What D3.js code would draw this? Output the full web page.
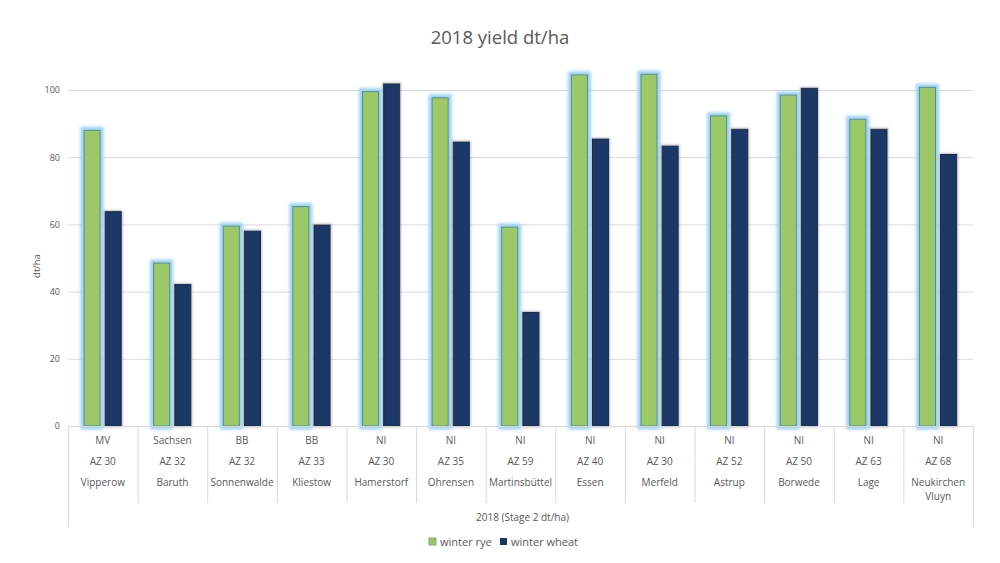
<!DOCTYPE html>
<html>
<head>
<meta charset="utf-8">
<script src="https://cdn.jsdelivr.net/npm/d3@7"></script>
<style>
  html, body { margin: 0; padding: 0; background: #fff; }
  svg { display: block; font-family: "Open Sans", "Liberation Sans", sans-serif; }
</style>
</head>
<body>
<svg id="chart" width="1000" height="563"></svg>
<script>
const states = ["MV","Sachsen","BB","BB","NI","NI","NI","NI","NI","NI","NI","NI","NI"];
const azValues = ["AZ 30","AZ 32","AZ 32","AZ 33","AZ 30","AZ 35","AZ 59","AZ 40","AZ 30","AZ 52","AZ 50","AZ 63","AZ 68"];
const sites = ["Vipperow","Baruth","Sonnenwalde","Kliestow","Hamerstorf","Ohrensen","Martinsbüttel","Essen","Merfeld","Astrup","Borwede","Lage","Neukirchen Vluyn"];
const seriesNames = ["winter rye","winter wheat"];
const winterRye = [88, 48.5, 59.5, 65.3, 99.5, 97.7, 59.2, 104.5, 104.7, 92.3, 98.5, 91.3, 100.8];
const winterWheat = [63.8, 42.1, 58, 59.8, 101.8, 84.5, 33.8, 85.4, 83.3, 88.3, 100.5, 88.3, 80.8];
const yTicks = [0, 20, 40, 60, 80, 100];
const chartTitle = "2018 yield dt/ha";
const yTitle = "dt/ha";
const groupLabel = "2018 (Stage 2 dt/ha)";

(function () {
const svg = d3.select("#chart");
const mLeft = 68, mRight = 973, mTop = 90, mBottom = 426;
const colors = { "winter rye": "#9DC867", "winter wheat": "#1B3766" };
const textColor = "#595959";

const defs = svg.append("defs");
const glow = defs.append("filter").attr("id", "glow").attr("x", "-50%").attr("y", "-10%").attr("width", "200%").attr("height", "120%");
glow.append("feMorphology").attr("in", "SourceAlpha").attr("operator", "dilate").attr("radius", 2.5).attr("result", "d");
glow.append("feGaussianBlur").attr("in", "d").attr("stdDeviation", 1.6).attr("result", "b");
glow.append("feFlood").attr("flood-color", "#9ED2F6").attr("result", "c");
glow.append("feComposite").attr("in", "c").attr("in2", "b").attr("operator", "in").attr("result", "g");
const gm = glow.append("feMerge");
gm.append("feMergeNode").attr("in", "g");
gm.append("feMergeNode").attr("in", "SourceGraphic");

const shadow = defs.append("filter").attr("id", "shadow").attr("x", "-50%").attr("y", "-10%").attr("width", "200%").attr("height", "120%");
shadow.append("feMorphology").attr("in", "SourceAlpha").attr("operator", "dilate").attr("radius", 1).attr("result", "d");
shadow.append("feGaussianBlur").attr("in", "d").attr("stdDeviation", 1.2).attr("result", "b");
shadow.append("feFlood").attr("flood-color", "#9a9a9a").attr("flood-opacity", 0.6).attr("result", "c");
shadow.append("feComposite").attr("in", "c").attr("in2", "b").attr("operator", "in").attr("result", "g");
const sm = shadow.append("feMerge");
sm.append("feMergeNode").attr("in", "g");
sm.append("feMergeNode").attr("in", "SourceGraphic");

const idx = d3.range(sites.length);
const x0 = d3.scaleBand().domain(idx).range([mLeft, mRight]).padding(0);
const bw = x0.bandwidth();
const x1 = d3.scaleBand().domain(seriesNames).range([0.23 * bw, 0.765 * bw]).paddingInner(0.24);
const y = d3.scaleLinear().domain([0, 100]).range([mBottom, mTop]);

svg.append("text").attr("x", 500).attr("y", 44).attr("text-anchor", "middle")
  .attr("font-size", 18.5).attr("fill", textColor).text(chartTitle);

const yAxis = svg.append("g").attr("transform", `translate(${mLeft},0)`)
  .call(d3.axisLeft(y).tickValues(yTicks).tickSize(-(mRight - mLeft)).tickPadding(8));
yAxis.select(".domain").remove();
yAxis.selectAll(".tick line").attr("stroke", "#D9D9D9").attr("stroke-width", 1);
yAxis.selectAll(".tick text").attr("fill", textColor).attr("font-size", 9)
  .attr("font-family", "'Open Sans', sans-serif");

svg.append("text").attr("transform", `translate(40,${(mTop + mBottom) / 2 + 8}) rotate(-90)`)
  .attr("text-anchor", "middle").attr("font-size", 9.5).attr("fill", textColor).text(yTitle);

const data = idx.map(i => ({ i, vals: [
  { key: "winter rye", v: winterRye[i] },
  { key: "winter wheat", v: winterWheat[i] }] }));

const groups = svg.append("g").selectAll("g").data(data).join("g")
  .attr("transform", d => `translate(${x0(d.i)},0)`);
groups.selectAll("rect").data(d => d.vals).join("rect")
  .attr("x", d => x1(d.key))
  .attr("y", d => y(d.v))
  .attr("width", x1.bandwidth())
  .attr("height", d => y(0) - y(d.v))
  .attr("fill", d => colors[d.key])
  .attr("stroke", d => d.key === "winter rye" ? "#4F8F8C" : "#15294D")
  .attr("stroke-width", 1)
  .attr("filter", d => d.key === "winter rye" ? "url(#glow)" : "url(#shadow)");

const axisG = svg.append("g");
axisG.append("line").attr("x1", mLeft).attr("x2", mRight).attr("y1", mBottom + 0.5).attr("y2", mBottom + 0.5)
  .attr("stroke", "#D9D9D9");
idx.concat([sites.length]).forEach(i => {
  const xx = (i < sites.length ? x0(i) : mRight) + 0.5;
  const outer = (i === 0 || i === sites.length);
  axisG.append("line").attr("x1", xx).attr("x2", xx).attr("y1", mBottom)
    .attr("y2", outer ? 527 : 503).attr("stroke", "#D9D9D9");
});

idx.forEach(i => {
  const cx = x0(i) + bw / 2;
  const t = svg.append("g").attr("fill", textColor).attr("font-size", 10).attr("text-anchor", "middle");
  t.append("text").attr("x", cx).attr("y", 444).text(states[i]);
  t.append("text").attr("x", cx).attr("y", 465).text(azValues[i]);
  const words = sites[i].split(" ");
  if (words.length > 1 && sites[i].length > 12) {
    t.append("text").attr("x", cx).attr("y", 486).text(words[0]);
    t.append("text").attr("x", cx).attr("y", 500).text(words.slice(1).join(" "));
  } else {
    t.append("text").attr("x", cx).attr("y", 486).text(sites[i]);
  }
});

svg.append("text").attr("x", (mLeft + mRight) / 2 + 2).attr("y", 521).attr("text-anchor", "middle")
  .attr("font-size", 10).attr("fill", textColor).text(groupLabel);

const legend = svg.append("g").attr("font-size", 11).attr("fill", textColor);
const legItems = [{ key: seriesNames[0], x: 429 }, { key: seriesNames[1], x: 500 }];
legItems.forEach(it => {
  legend.append("rect").attr("x", it.x).attr("y", 538).attr("width", 7).attr("height", 7)
    .attr("fill", colors[it.key]).attr("stroke", it.key === "winter rye" ? "#6E9F7C" : "none").attr("stroke-width", 0.8);
  legend.append("text").attr("x", it.x + 11).attr("y", 545.5).text(it.key);
});
})();
</script>
</body>
</html>
